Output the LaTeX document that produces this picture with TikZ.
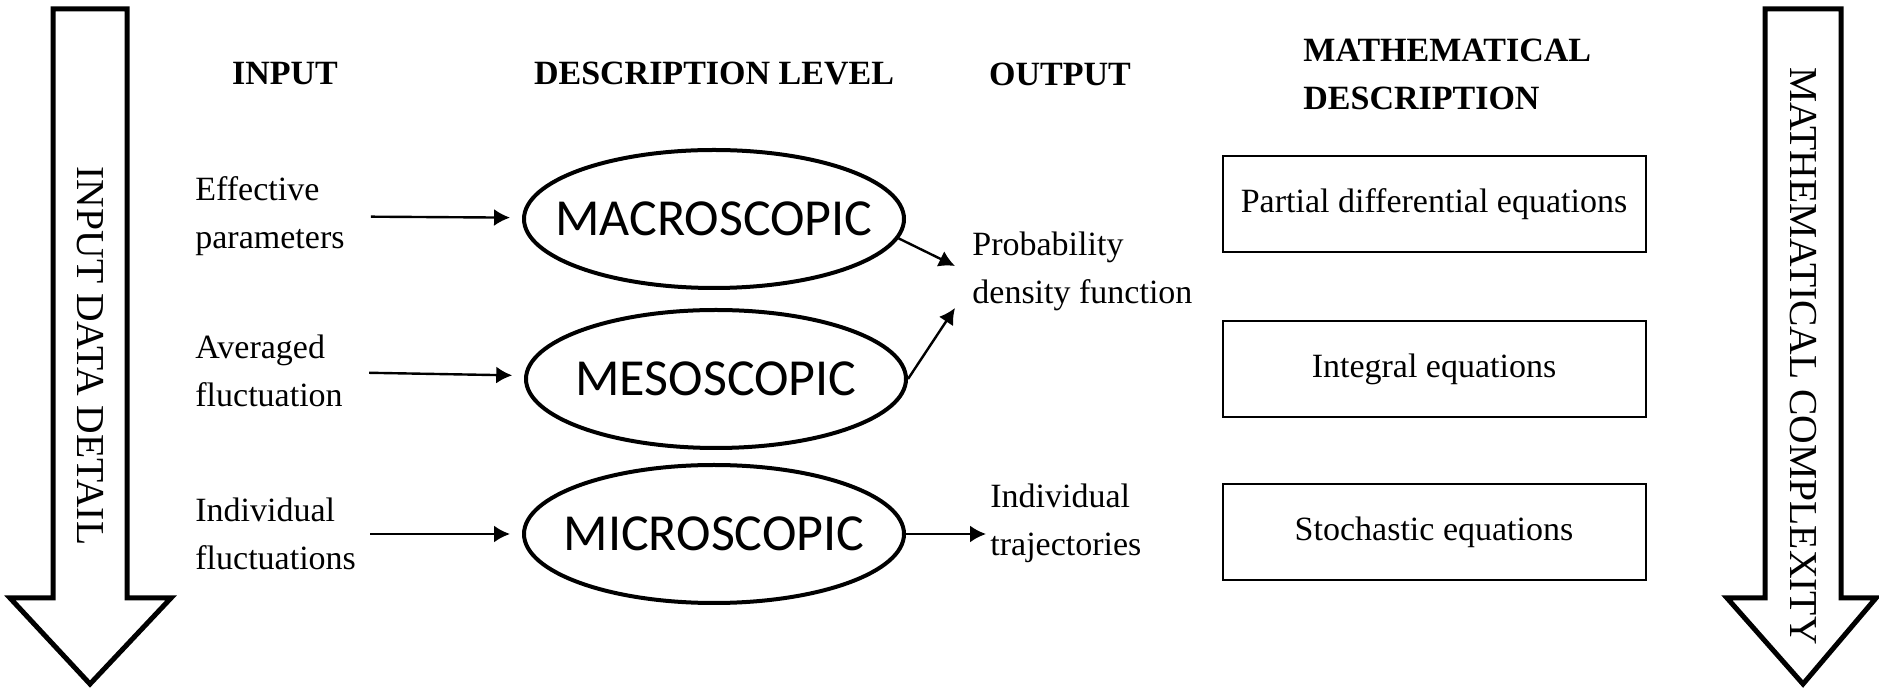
\documentclass[tikz,border=0pt]{standalone}
\usepackage{fontspec}
\setmainfont{Liberation Serif}
\newfontfamily\levelfont{Carlito}
\usetikzlibrary{shapes.geometric,arrows.meta}

\tikzset{
	head/.style={font=\fontsize{17}{24}\selectfont\bfseries, align=left, inner sep=0pt},
	txt/.style={font=\fontsize{17}{24}\selectfont, align=left, inner sep=0pt},
	level/.style={draw, ellipse, line width=2pt, inner xsep=-15pt, inner ysep=0pt,
		minimum width=190pt, minimum height=69pt, font=\levelfont\fontsize{26}{30}\selectfont},
	eqbox/.style={draw, line width=1pt, minimum width=211.5pt, minimum height=48pt,
		font=\fontsize{17}{24}\selectfont},
	link/.style={-{Latex[length=8pt, width=8.5pt]}, line width=1.2pt},
	bigarrow/.style={line width=2.5pt, line join=miter},
	side/.style={font=\fontsize{19.8}{22}\selectfont, rotate=-90},
}

\begin{document}
\begin{tikzpicture}[x=0.5pt, y=-0.5pt]
	%%%%% START %%%%%
	\useasboundingbox (0, 0) rectangle (1879, 688);
	
	% side arrows
	\draw[bigarrow] (53, 9) -- (127, 9) -- (127, 598) -- (171, 598) -- (90, 684) -- (10, 598) -- (53, 598) -- cycle;
	\node[side] (detail) at (90, 356) {INPUT DATA DETAIL};
	\draw[bigarrow] (1765, 9) -- (1841, 9) -- (1841, 598) -- (1876, 598) -- (1803, 684) -- (1727, 598) -- (1765, 598) -- cycle;
	\node[side] (complexity) at (1803, 356) {MATHEMATICAL COMPLEXITY};
	
	% column heads
	\node[head] (hinput) at (285, 74) {INPUT};
	\node[head] (hlevel) at (714, 74) {DESCRIPTION LEVEL};
	\node[head] (houtput) at (1060, 74) {OUTPUT};
	\node[head, anchor=west] (hmath) at (1303, 74) {MATHEMATICAL\\DESCRIPTION};
	
	% inputs
	\node[txt, anchor=west] (eff) at (195, 216) {Effective\\parameters};
	\node[txt, anchor=west] (avg) at (195, 371) {Averaged\\fluctuation};
	\node[txt, anchor=west] (ind) at (195, 534) {Individual\\fluctuations};
	
	% levels
	\node[level] (macro) at (714, 219) {MACROSCOPIC};
	\node[level] (meso) at (716, 379) {MESOSCOPIC};
	\node[level] (micro) at (714, 534) {MICROSCOPIC};
	
	% outputs
	\node[txt, anchor=west] (pdf) at (972, 271) {Probability\\density function};
	\node[txt, anchor=west] (traj) at (990, 523) {Individual\\trajectories};
	\coordinate (pdfup) at (955, 266);
	\coordinate (pdfdown) at (955, 308);
	\coordinate (trajin) at (986, 534);
	
	% equations
	\node[eqbox] (pde) at (1434, 204) {Partial differential equations};
	\node[eqbox] (inteq) at (1434, 369) {Integral equations};
	\node[eqbox] (stoch) at (1434, 532) {Stochastic equations};
	
	% links
	\draw[link, shorten <=13pt, shorten >=6pt] (eff) -- (macro);
	\draw[link, shorten <=13pt, shorten >=6pt] (avg) -- (meso);
	\draw[link, shorten <=7pt, shorten >=6pt] (ind) -- (micro);
	\draw[link] (macro.-6) -- (pdfup);
	\draw[link] (meso.east) -- (pdfdown);
	\draw[link] (micro) -- (trajin);
	%%%%% END %%%%%
\end{tikzpicture}
\end{document}
